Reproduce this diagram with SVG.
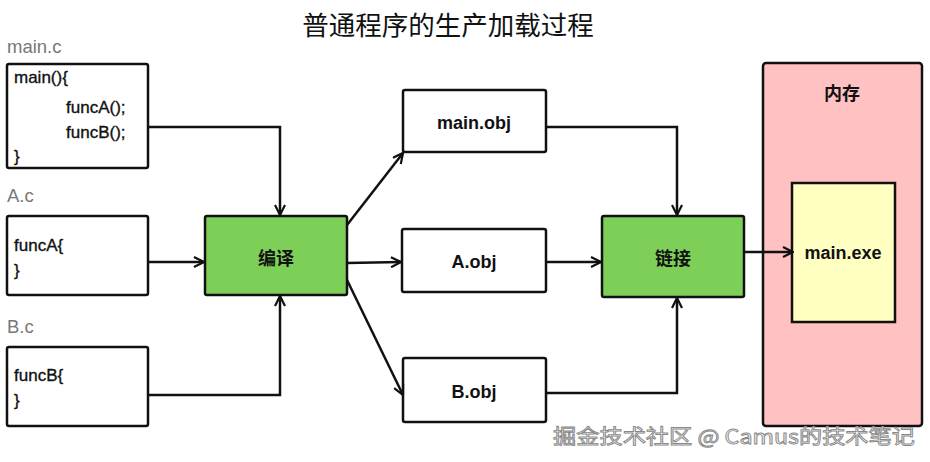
<svg xmlns="http://www.w3.org/2000/svg" width="930" height="462" viewBox="0 0 930 462">
<style>
.box{fill:#ffffff;stroke:#111;stroke-width:2.5}
.green{fill:#7dcf58;stroke:#111;stroke-width:2.5}
.code{font-family:"Liberation Sans","Noto Sans CJK SC",sans-serif;font-size:17px;fill:#111;stroke:#111;stroke-width:0.35}
.lbl{font-family:"Liberation Sans","Noto Sans CJK SC",sans-serif;font-size:18.5px;fill:#777}
.ctr{font-family:"Liberation Sans","Noto Sans CJK SC",sans-serif;font-size:18px;font-weight:bold;fill:#111;text-anchor:middle;dominant-baseline:central}
.cn{font-family:"Noto Sans CJK SC",sans-serif;font-size:18px;font-weight:bold;fill:#111;text-anchor:middle;dominant-baseline:central}
.conn{fill:none;stroke:#111;stroke-width:2.5}
</style>
<defs>
<marker id="arr" viewBox="0 0 12 12" refX="11" refY="6" markerWidth="12" markerHeight="12" markerUnits="userSpaceOnUse" orient="auto">
<path d="M1,1 L11,6 L1,11" fill="none" stroke="#111" stroke-width="2.2"/>
</marker>
</defs>
<rect width="930" height="462" fill="#ffffff"/>
<text x="448" y="23" font-family="Noto Sans CJK SC,sans-serif" font-size="26.5" fill="#111" text-anchor="middle" dominant-baseline="central">普通程序的生产加载过程</text>

<g id="main_c">
<text class="lbl" x="7" y="53">main.c</text>
<rect class="box" x="7" y="64" width="141" height="104" rx="2"/>
<text class="code" x="14" y="83">main(){</text>
<text class="code" x="66" y="113">funcA();</text>
<text class="code" x="66" y="138">funcB();</text>
<text class="code" x="14" y="162">}</text>
</g>
<g id="A_c">
<text class="lbl" x="7" y="202">A.c</text>
<rect class="box" x="7" y="216" width="141" height="79" rx="2"/>
<text class="code" x="14" y="251">funcA{</text>
<text class="code" x="14" y="276">}</text>
</g>
<g id="B_c">
<text class="lbl" x="7" y="333">B.c</text>
<rect class="box" x="7" y="347" width="141" height="79" rx="2"/>
<text class="code" x="14" y="381">funcB{</text>
<text class="code" x="14" y="406">}</text>
</g>
<g id="compile">
<rect class="green" x="205" y="216" width="142" height="79" rx="2"/>
<text class="cn" x="276" y="257">编译</text>
</g>
<g id="main_obj">
<rect class="box" x="403" y="90" width="143" height="62" rx="2"/>
<text class="ctr" x="474" y="123">main.obj</text>
</g>
<g id="A_obj">
<rect class="box" x="402" y="229" width="144" height="63" rx="2"/>
<text class="ctr" x="474" y="262">A.obj</text>
</g>
<g id="B_obj">
<rect class="box" x="403" y="358" width="143" height="64" rx="2"/>
<text class="ctr" x="474" y="392">B.obj</text>
</g>
<g id="link">
<rect class="green" x="602" y="216" width="142" height="81" rx="2"/>
<text class="cn" x="673" y="257">链接</text>
</g>
<g id="memory">
<rect x="763" y="63" width="159" height="363" rx="3" fill="#ffc1c1" stroke="#111" stroke-width="2.5"/>
<text class="cn" x="842" y="92">内存</text>
</g>
<g id="main_exe">
<rect x="792" y="183" width="103" height="139" fill="#ffffc2" stroke="#111" stroke-width="2.5"/>
<text class="ctr" x="843" y="253">main.exe</text>
</g>

<g id="connectors">
<path class="conn" d="M148,127 H280 V215" marker-end="url(#arr)"/>
<path class="conn" d="M148,262 H204" marker-end="url(#arr)"/>
<path class="conn" d="M148,395 H280 V296" marker-end="url(#arr)"/>
<path class="conn" d="M347,225 L403,153" marker-end="url(#arr)"/>
<path class="conn" d="M347,263 L401,262" marker-end="url(#arr)"/>
<path class="conn" d="M347,280 L403,395" marker-end="url(#arr)"/>
<path class="conn" d="M546,127 H677 V215" marker-end="url(#arr)"/>
<path class="conn" d="M546,262 H601" marker-end="url(#arr)"/>
<path class="conn" d="M546,393 H677 V298" marker-end="url(#arr)"/>
<path class="conn" d="M744,252 H793" marker-end="url(#arr)"/>
</g>

<text x="553" y="435" font-family="Noto Sans CJK SC,sans-serif" font-size="20" fill="#ffffff" stroke="#888" stroke-width="0.9" dominant-baseline="central" textLength="362" lengthAdjust="spacingAndGlyphs">掘金技术社区 @ Camus的技术笔记</text>
</svg>
